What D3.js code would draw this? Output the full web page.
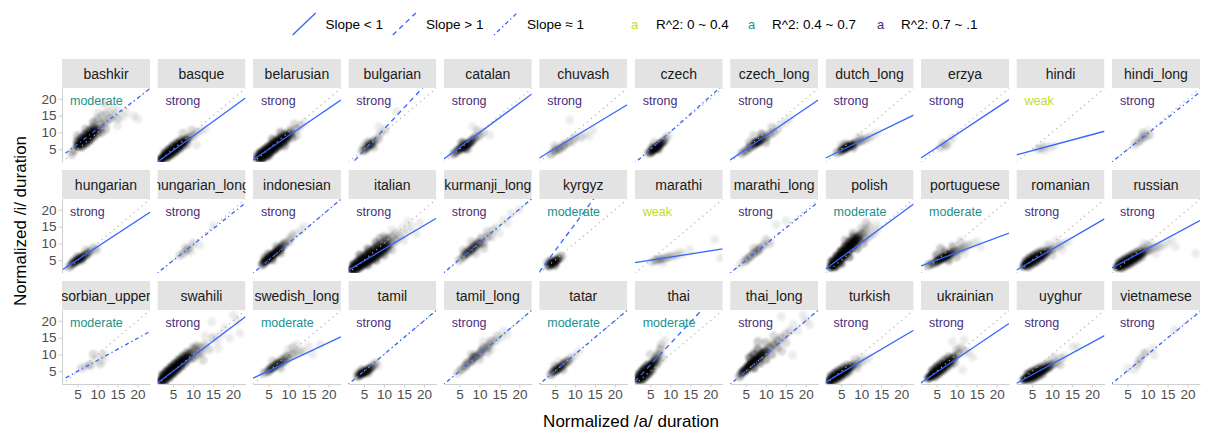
<!DOCTYPE html>
<html><head><meta charset="utf-8">
<script src="https://cdn.jsdelivr.net/npm/d3@7"></script>
<style>
html,body{margin:0;padding:0;background:#fff;}
svg{display:block;font-family:"Liberation Sans",Arial,sans-serif;}
</style></head>
<body><svg id="chart" width="1208" height="432"></svg>
<script>
// ---------- data ----------
const languages = ["bashkir","basque","belarusian","bulgarian","catalan","chuvash","czech","czech_long","dutch_long","erzya","hindi","hindi_long",
"hungarian","hungarian_long","indonesian","italian","kurmanji_long","kyrgyz","marathi","marathi_long","polish","portuguese","romanian","russian",
"sorbian_upper","swahili","swedish_long","tamil","tamil_long","tatar","thai","thai_long","turkish","ukrainian","uyghur","vietnamese"];
// fitted line: intercept & slope
const intercepts = [2.0,0.25,0.9,-1.75,1.1,1.6,-0.3,0.9,1.76,1.5,2.95,0.16,
1.24,0.16,0.0,1.3,0.2,-0.3,4.07,0.15,1.4,2.8,1.34,2.0,
1.7,0.5,2.3,0.0,0.0,0.0,0.5,0.0,1.0,0.7,0.7,0.3];
const slopes = [0.91,0.865,0.81,1.27,0.88,0.72,1.05,0.81,0.58,0.79,0.32,0.945,
0.78,0.945,1.0,0.70,1.0,1.6,0.185,0.96,0.88,0.445,0.69,0.64,
0.655,0.895,0.56,1.0,1.0,1.0,1.27,1.0,0.70,0.80,0.645,0.97];
// slope class: "lt" (<1), "gt" (>1), "eq" (≈1)
const slopeClass = ["eq","lt","lt","gt","lt","lt","eq","lt","lt","lt","lt","eq",
"lt","eq","eq","lt","eq","gt","lt","eq","lt","lt","lt","lt",
"eq","lt","lt","eq","eq","eq","gt","eq","lt","lt","lt","eq"];
// R^2 class
const fitStrength = ["moderate","strong","strong","strong","strong","strong","strong","strong","strong","strong","weak","strong",
"strong","strong","strong","strong","strong","moderate","weak","strong","moderate","moderate","strong","strong",
"moderate","strong","moderate","strong","strong","moderate","moderate","strong","strong","strong","strong","strong"];
// point clouds: [a duration, i duration, overlapping count]
const cloudPoints = [
// bashkir
[[5,6,12],[5.5,6.5,18],[6,7,25],[6.5,7.5,30],[7,8,30],[7.5,8.5,30],[8,9,28],[8.5,9.5,22],[9,10.2,16],[9.5,10.8,10],[5,7.3,8],[6,8.3,12],[7,9.4,12],[8,10.5,10],[9,11.6,6],[6,5.8,8],[7,6.7,12],[8,7.7,12],[9,8.8,8],[10,9.8,5],[4,4.5,4],[3.5,3.3,2],[10.5,11,5],[11,12.5,4],[12,13,3],[11,15,2],[12.3,18.2,1],[11.4,18.7,1],[13,14,3],[12,11,3],[14,15,2],[15,14,2],[16.4,14.7,1],[17,16,1],[14,17,1],[13,16,1],[9,13,4],[10,14,3],[5,9,3],[11,10,3],[15,12,1],[19,15,1],[20,14,1],[12,15.5,2],[10,16,1],[7,11,3],[15,16.5,1]],
// basque
[[2,2,20],[2.5,2.5,28],[3,3,30],[3.5,3.4,30],[4,3.9,30],[4.5,4.3,30],[5,4.8,30],[5.5,5.2,30],[6,5.7,28],[6.5,6.1,24],[7,6.6,20],[7.5,7,15],[8,7.5,10],[8.5,8,6],[3,3.9,10],[4,4.9,12],[5,5.9,12],[6,6.8,10],[7,7.7,6],[3.5,2.6,10],[4.5,3.4,12],[5.5,4.3,12],[6.5,5.2,10],[7.5,6.1,6],[9,8.5,4],[9.65,10.7,2],[7.5,9.8,2],[10.9,6.3,1],[10,9,3],[11,10,2],[12,10.5,1],[8.5,6.5,3],[13,11,1]],
// belarusian
[[2.5,2.4,22],[3,2.9,30],[3.5,3.3,30],[4,3.8,30],[4.5,4.2,30],[5,4.7,30],[5.5,5.1,30],[6,5.6,30],[6.5,6,30],[7,6.5,30],[7.5,6.9,28],[8,7.4,25],[8.5,7.8,20],[9,8.3,16],[9.5,8.7,12],[10,9.2,8],[3,3.9,20],[4,4.8,20],[5,5.7,20],[6,6.6,20],[7,7.5,18],[8,8.4,14],[9,9.3,10],[3.5,2.3,20],[4.5,3.2,20],[5.5,4.1,20],[6.5,5,18],[7.5,5.9,14],[8.5,6.8,10],[9.5,7.7,8],[10.5,10.5,5],[11,8.5,4],[12,11,3],[13,12,2],[11.5,12.5,2],[14,13,1],[8,10,4],[12,9,2],[6,8,5],[5,3,5],[9,6,4],[10.5,9.5,6],[2,3,5]],
// bulgarian
[[4.5,4.5,3],[5.2,4.8,5],[5.8,5.5,8],[6.5,6.3,10],[7,6.5,7],[7.5,7.5,5],[6,7,4],[8.5,8,3],[9,9.5,2],[10.2,10.7,2],[8.7,11.7,1],[13.1,16.2,1],[5,6,2],[7.5,5.5,2]],
// catalan
[[4,4,6],[4.8,4.8,12],[5.5,5.3,15],[6.2,5.8,18],[6.8,6.3,18],[7.5,6.8,12],[8,7.3,8],[8.5,8,5],[9,8.5,4],[10,9,3],[8.35,11.7,1],[9.5,10.5,2],[11,10,2],[12.6,9.2,1],[5.5,7,3],[7,5,3],[3.5,3.5,3],[6,6.8,6],[6.5,5.2,6]],
// chuvash
[[4,3.5,3],[5,4.5,5],[6,5,5],[7,5.8,4],[7.5,6.5,3],[8.5,7,3],[9.5,7.5,2],[10,8.5,2],[11.5,8.5,2],[12.5,9.5,1],[14.5,10.7,1],[13.5,8.8,1],[8.7,13.7,1],[5,6,2]],
// czech
[[5,4,8],[5.5,4.5,15],[6,5,20],[6.5,5.5,22],[7,6,18],[7.5,6.5,12],[8,7,8],[8.5,7.5,5],[5.5,5.5,6],[7,5,6],[9,8.5,2],[4.5,4,3],[9.5,9,1],[6,7,2]],
// czech_long
[[4,3.8,4],[5,4.5,6],[6,5.5,8],[7,6.3,10],[7.5,7,12],[8,7,12],[8.5,7.5,10],[9,8,8],[10,8.5,6],[9,9.5,5],[11,9.5,4],[12,10,3],[11.5,11.5,2],[13,11,2],[14,12.5,1],[15,13,1],[6,7,3],[10,7,3],[16,14,1],[7,9,2]],
// dutch_long
[[4,4,4],[5,4.5,8],[5.5,5,10],[6,5.2,12],[6.5,5.6,12],[7,6,12],[7.5,6.2,10],[8,6.5,8],[9,7,5],[10,7.5,4],[11,8,3],[12,8.5,2],[13,9,1],[6,6.5,4],[8,5.5,4],[9.5,8.5,2],[14,10,1],[5,6,2]],
// erzya
[[6,5.5,2],[7,6.5,2],[7.5,6,2],[8.5,7.5,1],[6.5,7,1],[9,8.5,1]],
// hindi
[[6.5,5,2],[7.5,5.5,2],[8.5,6,1],[9.5,5.5,1],[10.5,6,1],[8,4.5,1]],
// hindi_long
[[7.1,6.85,2],[8,7.5,3],[8.8,8.5,3],[8.8,9.8,2],[10.5,9.2,2],[9.5,8.8,2],[6.5,6,1],[10,10.5,1]],
// hungarian
[[3,3,4],[3.5,3.8,6],[4,4.2,8],[4.5,4.6,10],[5,5,12],[5.6,5.5,12],[6,5.8,10],[6.5,6.2,8],[7,6.5,6],[7.5,7,5],[8,7.5,4],[8.85,8.7,2],[9.5,8,2],[10,8.5,1],[5,6,4],[6,5,4],[4,5,2],[7,8,2]],
// hungarian_long
[[6.7,6.4,2],[7.5,7,2],[8.35,8.0,3],[9,8.5,2],[10,10,2],[11.7,9.4,1],[15,15.3,1],[9.5,7.5,1],[8,9,1]],
// indonesian
[[3.5,3.8,8],[4,4.5,14],[4.5,5,18],[5,5.5,22],[5.5,6,22],[6,6.5,20],[6.5,7,18],[7,7.5,15],[7.5,8,12],[8,8.5,10],[8.5,9.3,7],[9,10,5],[10,10.5,3],[10.5,11.5,2],[11,12.5,2],[12,13,1],[13,14,1],[6,5.2,6],[5,6.8,6],[8,7.2,4],[7,9,4],[4,5.8,4],[14,15,1]],
// italian
[[2,2.3,25],[2.5,2.7,30],[3,3.1,30],[3.5,3.5,30],[4,3.9,30],[4.5,4.3,30],[5,4.7,30],[5.5,5.1,30],[6,5.5,30],[6.5,5.9,30],[7,6.3,30],[7.5,6.7,28],[8,7.1,25],[8.5,7.5,22],[9,7.9,18],[9.5,8.3,15],[10,8.7,12],[10.5,9.1,9],[11,9.5,7],[2.5,3.7,18],[3.5,4.6,20],[4.5,5.5,20],[5.5,6.4,20],[6.5,7.3,18],[7.5,8.2,15],[8.5,9.1,12],[9.5,10,8],[10.5,10.9,5],[4,6.5,6],[6,8.3,6],[8,10.2,5],[10,12,3],[3,2.2,18],[4,3,20],[5,3.8,20],[6,4.6,20],[7,5.3,18],[8,6.1,15],[9,6.9,12],[10,7.7,8],[11,8.4,5],[6,3.6,5],[8,5,5],[10,6.5,4],[12,8,2],[12,10,4],[12,12,3],[13,11,3],[13,13,2],[14,12,2],[14.5,14.5,1],[15,13,1],[16,14,1],[17,15,1],[18,13,1],[11,11.5,4],[9,11.5,3],[12,14,1],[15,11,1],[19,16,1],[16,16.5,1]],
// kurmanji_long
[[5,5,3],[6,6,5],[6.5,7,6],[7,7,7],[7.5,8,7],[8,8,8],[8.5,9,7],[9,9,7],[9.5,10,6],[10,10,5],[10.5,11.5,4],[11,10,4],[12,12,3],[12,13.5,2],[13,12,2],[13.5,14,2],[14.5,15,1],[15,13,1],[16,17,1],[17,16,1],[20,20,1],[18,19,1],[6,8,2],[9,7,2],[8,10.5,2],[11,8.5,2]],
// kyrgyz
[[3.5,3.3,8],[4,3.8,14],[4.5,4.2,18],[5,4.6,16],[5.5,5,12],[6,5.5,6],[4,4.8,6],[5,3.5,6],[6.5,6.2,3],[3.2,4.3,3],[7,6,1]],
// marathi
[[5.5,4.5,2],[6.5,5,4],[7.5,5.3,4],[8.5,5.5,3],[9.5,6,3],[10.5,6.2,2],[11.5,6.6,2],[13,6.8,1],[14.9,8.1,1],[21.1,11.1,1],[22.5,5.7,1],[8,4.2,1],[12.5,7.5,1]],
// marathi_long
[[4.5,4.5,2],[5.15,5.1,4],[6,6,5],[7,7,5],[8,7.8,5],[8.5,8.6,4],[9.5,9.5,3],[10.1,11.1,2],[11,10,2],[12.6,15.6,1],[15.1,16.7,1],[3.5,3.5,1],[7,8.5,2]],
// polish
[[2.5,3,20],[3,3.6,28],[3.5,4.3,30],[4,5,30],[4.5,5.6,30],[5,6.3,30],[5.5,7,30],[6,7.6,30],[6.5,8.3,28],[7,9,26],[7.5,9.6,22],[8,10.3,18],[8.5,11,14],[9,11.6,10],[9.5,12.3,7],[3,4.8,15],[4,6.2,18],[5,7.6,18],[6,9,15],[7,10.4,12],[8,11.8,8],[3.5,3.2,15],[4.5,4.5,18],[5.5,5.9,18],[6.5,7.2,16],[7.5,8.5,13],[8.5,9.8,10],[9.5,11,6],[5,4,6],[7,6,6],[9,8.5,5],[10.5,10,4],[10.4,13,4],[11,14,3],[11.2,16.2,2],[12,15,2],[13,13,2],[13.8,15.6,1],[8,13,3],[12,12,2],[11,11.5,3],[10,14.5,2],[14,14,1],[2.5,4.5,5],[6,11,3]],
// portuguese
[[3,3.5,5],[4,4,8],[5,4.5,10],[5.5,5,12],[6,5.3,14],[6.5,5.6,14],[7,6,14],[7.5,6.2,12],[8,6.6,10],[8.5,7,8],[9,7.3,6],[10,7.8,5],[11,8.3,4],[12,8.8,3],[13,9.5,2],[14,10,1],[15,10.5,1],[5,6.5,5],[7,7.5,5],[9,9,4],[8,5,5],[10,6,3],[6,8.5,3],[11,10.5,2],[12,7,1],[16,9,1]],
// romanian
[[3,3.3,12],[3.5,3.8,20],[4,4.2,25],[4.5,4.6,28],[5,5,28],[5.5,5.3,28],[6,5.6,25],[6.5,6,22],[7,6.3,18],[7.5,6.6,14],[8,7,10],[8.5,7.3,8],[9,7.8,6],[10,8.3,4],[11,8.8,2],[3.5,4.8,8],[4.5,5.7,10],[5.5,6.4,10],[6.5,7.1,8],[7.5,7.8,5],[4,3.2,8],[5,3.9,10],[6,4.6,10],[7,5.3,7],[8,6,5],[12,9.5,2],[13,10,1],[14,10.5,1],[9,9.5,2],[11,11,1],[10,6.5,2],[12.5,8,1]],
// russian
[[2.5,3,15],[3,3.3,25],[3.5,3.6,28],[4,4,30],[4.5,4.3,30],[5,4.6,30],[5.5,5,28],[6,5.3,26],[6.5,5.6,22],[7,6,18],[7.5,6.3,15],[8,6.6,12],[8.5,7,9],[9,7.3,7],[10,7.8,5],[11,8.3,3],[12,8.8,2],[3,4.3,10],[4,5,12],[5,5.7,12],[6,6.4,10],[7,7.1,7],[8,7.8,5],[9,8.5,3],[3.5,2.7,8],[4.5,3.4,10],[5.5,4,10],[6.5,4.7,8],[7.5,5.3,6],[8.5,6,4],[13,9,2],[14,9.5,1],[15,10,1],[17,9,1],[10,9.5,2],[22,7,1],[9,10,1],[12,7,1],[11,10,1],[16,11,1]],
// sorbian_upper
[[6,5.9,2],[7,6.5,1],[8.1,6.8,3],[8.9,10,2],[11.3,10,2],[10.6,7.2,2],[11.4,8.3,1],[9.5,8.5,1]],
// swahili
[[2,2.2,25],[2.5,2.8,30],[3,3.3,30],[3.5,3.9,30],[4,4.4,30],[4.5,5,30],[5,5.5,30],[5.5,6,30],[6,6.6,28],[6.5,7.1,25],[7,7.7,20],[7.5,8.2,16],[8,8.8,12],[8.5,9.3,9],[9,9.9,6],[2.5,3.9,15],[3.5,5,18],[4.5,6.1,18],[5.5,7.2,15],[6.5,8.3,12],[7.5,9.4,8],[8.5,10.5,5],[3,2.3,15],[4,3.3,18],[5,4.4,18],[6,5.5,15],[7,6.5,12],[8,7.6,8],[9,8.7,5],[9.5,10.5,5],[10,9,5],[10.5,11.5,4],[11,10,4],[12,12,3],[12.5,8.3,2],[13,13,2],[14,11.5,2],[14.65,19.7,1],[15,15,2],[16.3,11.8,1],[17,16,1],[19.2,14.8,1],[20.1,21.7,1],[21.7,16.3,1],[18,18,1],[21,20,1],[13,15.5,1],[16,14,1],[11,12.5,3],[10,12,3],[12,10.5,3]],
// swedish_long
[[4,4.5,4],[5,5,6],[5.5,5.8,8],[6,6,8],[6.5,6.5,8],[7,7,8],[7.5,7.5,7],[8,7.5,6],[8.5,8.5,5],[9,8,5],[9.5,9.5,4],[10,9,3],[11,10,3],[12,10.5,2],[11,12,2],[13,11,2],[14,11,1],[15,12.5,1],[18,13,1],[6,8,2],[8,6,3],[10,11.5,1],[16,10,1],[12,13,1]],
// tamil
[[3.5,3.5,6],[4,4,12],[4.5,4.3,16],[5,4.6,18],[5.5,5,16],[6,5.4,12],[6.5,5.8,8],[7,6.2,5],[7.5,6.8,3],[4.5,5.3,5],[6,4.5,4],[8,7.5,2],[8.5,6.5,1],[3.5,4.5,2]],
// tamil_long
[[4.5,4.5,2],[5.5,5.5,4],[6.5,6.5,5],[7,7.5,5],[8,8,6],[8.5,9,6],[9,9.5,6],[10,10,5],[10.5,11,5],[11,12,4],[12,12,4],[12.5,13,3],[13,14,3],[14,14,2],[14.5,15.5,2],[15.5,15,1],[16,17,1],[17,16,1],[8,10,2],[10,8.5,2],[12,10.5,2],[11,14,1],[13,11.5,1]],
// tatar
[[4,4,4],[4.5,4.8,6],[5,5,8],[5.5,5.5,10],[6,6,10],[6.5,6.3,8],[7,7,7],[7.5,7.3,5],[8,8,4],[8.5,8,3],[9,9,2],[10,9.5,1],[5,6.5,3],[7,5.5,3],[11,11,1],[6,8,1]],
// thai
[[2,2.5,20],[2.5,3.2,28],[3,3.8,30],[3.5,4.5,30],[4,5.2,28],[4.5,5.8,25],[5,6.5,20],[5.5,7.2,15],[6,8,10],[6.5,9,6],[2,3.8,10],[2.8,4.8,14],[3.5,5.8,12],[4.3,6.8,8],[3,2.6,12],[3.8,3.5,14],[4.6,4.4,12],[5.4,5.4,8],[7,10,4],[7.5,11.5,3],[7.75,12.8,2],[8.6,14.3,1],[6.5,7,4],[8,9,2],[5,10,2],[7,8,3]],
// thai_long
[[3.5,3.5,5],[4,4.5,8],[4.5,5,12],[5,5.5,15],[5.5,6.2,18],[6,6.8,20],[6.5,7.3,20],[7,7.8,20],[7.5,8.3,18],[8,8.8,16],[8.5,9.3,14],[9,10,12],[9.5,10.5,10],[10,11,8],[11,12,6],[12,13,5],[13,14,4],[6,9,8],[7,10,8],[8,11.5,6],[8.05,13.8,3],[7,6,8],[8.5,7.5,6],[10,8.5,5],[11.5,10,4],[13,12,3],[14,15,3],[15,16,2],[16,17,2],[16.7,9.8,1],[14,11,2],[13.9,21.2,1],[17,19,1],[18,17,1],[19.3,21.7,1],[21,18.8,1],[12,15.5,2],[10,13.5,3],[15,13.5,2],[20,20,1]],
// turkish
[[2,2,15],[2.5,2.5,24],[3,3,28],[3.5,3.3,30],[4,3.7,30],[4.5,4,28],[5,4.4,25],[5.5,4.8,22],[6,5.2,18],[6.5,5.5,14],[7,6,10],[7.5,6.4,7],[8,6.8,5],[9,7.2,3],[10,7.8,2],[11,8.3,1],[2.5,3.5,10],[3.5,4.4,12],[4.5,5.2,10],[5.5,6,7],[6.5,6.8,4],[3,2.2,10],[4,2.8,12],[5,3.5,10],[6,4.2,7],[7,4.9,4],[8.5,8.5,2],[12,9,1],[9,6,2],[10,9,1]],
// ukrainian
[[3,3,12],[3.5,3.5,20],[4,4,26],[4.5,4.5,30],[5,5,30],[5.5,5.4,30],[6,5.8,28],[6.5,6.3,25],[7,6.8,22],[7.5,7.2,18],[8,7.6,14],[8.5,8.2,11],[9,8.8,8],[9.5,9.3,6],[10.5,10.3,4],[4,5.2,10],[5,6.2,12],[6,7.2,10],[7,8.2,7],[8,9.2,5],[4.5,3.5,10],[5.5,4.4,12],[6.5,5.3,10],[7.5,6.2,7],[8.5,7.1,5],[8.95,13.8,1],[11.9,14.3,1],[11.5,5.4,1],[14,9.1,1],[12,11,2],[11,12,2],[13,10.5,1],[10,11.5,2],[9.5,7.5,3]],
// uyghur
[[3,2.5,12],[3.5,2.8,20],[4,3.1,26],[4.5,3.4,28],[5,3.7,30],[5.5,4,30],[6,4.3,28],[6.5,4.6,26],[7,4.9,22],[7.5,5.2,18],[8,5.5,14],[8.5,5.8,10],[9,6.1,8],[9.5,6.5,6],[10,7,4],[4,4.2,10],[5,4.8,12],[6,5.4,10],[7,6,8],[8,6.6,5],[4.5,2.5,8],[5.5,3,10],[6.5,3.6,8],[7.5,4.2,6],[11,7.5,3],[12.3,8.8,2],[12,6.9,2],[13,9.5,1],[15.2,12.3,1],[16.4,12.3,1],[10.5,9,2],[9,7.5,3]],
// vietnamese
[[5.05,5.9,1],[6.7,5.4,1],[7.5,7,2],[8,8.3,2],[9.2,10.3,2],[9.8,10.7,1],[11.3,11.8,1],[11.6,9.8,1],[16.7,17.3,1],[8.5,9,1]]
];
const tickValues = [5,10,15,20];
const legendSlopeLabels = ["Slope < 1","Slope > 1","Slope \u2248 1"];
const legendSlopeKeys = ["lt","gt","eq"];
const legendR2Labels = ["R^2: 0 ~ 0.4","R^2: 0.4 ~ 0.7","R^2: 0.7 ~ .1"];
const legendR2Keys = ["weak","moderate","strong"];
const xTitle = "Normalized /a/ duration";
const yTitle = "Normalized /i/ duration";

// ---------- styles ----------
const strengthColor = {weak:"#BBDF27", moderate:"#21908C", strong:"#472D7B"};
const dashFor = {lt:null, gt:"5,4", eq:"1.3,3,4,3"};
const blue = "#3366FF";

// ---------- layout ----------
const nCols = 12;
const panelLeft0 = 62, colPitch = 95.45, panelW = 88;
const stripTop0 = 59, rowPitch = 111, stripH = 29, panelH = 74;
const x = d3.scaleLinear().domain([1.1, 23.1]).range([0, panelW]);
const y = d3.scaleLinear().domain([1.2, 23.2]).range([panelH, 0]);
const alpha = 0.075;

const svg = d3.select("#chart");
const defs = svg.append("defs");
defs.append("filter").attr("id", "soft").attr("x", "-20%").attr("y", "-20%").attr("width", "140%").attr("height", "140%")
  .append("feGaussianBlur").attr("stdDeviation", 0.9);

languages.forEach((lang, i) => {
  const col = i % nCols, row = Math.floor(i / nCols);
  const left = panelLeft0 + col * colPitch;
  const stripTop = stripTop0 + row * rowPitch;
  const top = stripTop + stripH;

  // strip
  defs.append("clipPath").attr("id", "sc" + i).append("rect")
    .attr("x", left).attr("y", stripTop).attr("width", panelW).attr("height", stripH);
  const sg = svg.append("g").attr("clip-path", `url(#sc${i})`);
  sg.append("rect").attr("x", left).attr("y", stripTop).attr("width", panelW).attr("height", stripH).attr("fill", "#e3e3e3");
  sg.append("text").attr("x", left + panelW / 2).attr("y", stripTop + stripH / 2 + 5)
    .attr("text-anchor", "middle").attr("font-size", 14).attr("fill", "#1a1a1a").text(lang);

  // panel
  defs.append("clipPath").attr("id", "pc" + i).append("rect")
    .attr("x", 0).attr("y", 0).attr("width", panelW).attr("height", panelH);
  const g = svg.append("g").attr("transform", `translate(${left},${top})`);
  const pg = g.append("g").attr("clip-path", `url(#pc${i})`);

  pg.append("g").attr("filter", "url(#soft)")
    .selectAll("circle").data(cloudPoints[i]).join("circle")
    .attr("cx", d => x(d[0])).attr("cy", d => y(d[1])).attr("r", 4.4)
    .attr("fill", "#000").attr("fill-opacity", d => 1 - Math.pow(1 - alpha, d[2]));

  // y = x reference
  pg.append("line").attr("x1", x(1.1)).attr("y1", y(1.1)).attr("x2", x(23.1)).attr("y2", y(23.1))
    .attr("stroke", "#b0b0b0").attr("stroke-width", 1.2).attr("stroke-dasharray", "1.2,4");

  // fitted line
  const a = intercepts[i], b = slopes[i];
  pg.append("line").attr("x1", x(1.1)).attr("y1", y(a + b * 1.1)).attr("x2", x(23.1)).attr("y2", y(a + b * 23.1))
    .attr("stroke", blue).attr("stroke-width", 1.3)
    .attr("stroke-dasharray", dashFor[slopeClass[i]]);

  // strength label
  pg.append("text").attr("x", x(3.1)).attr("y", y(19.4)).attr("dy", "0.35em")
    .attr("font-size", 12.5).attr("fill", strengthColor[fitStrength[i]]).text(fitStrength[i]);

  // axes
  const styleAxis = ax => {
    ax.select(".domain").attr("stroke", "#cfcfcf");
    ax.selectAll(".tick line").attr("stroke", "#cfcfcf");
    ax.selectAll("text").attr("font-size", 13.5).attr("fill", "#4d4d4d").attr("font-family", '"Liberation Sans",Arial,sans-serif');
  };
  if (col === 0) {
    styleAxis(g.append("g").call(d3.axisLeft(y).tickValues(tickValues).tickSize(3.5).tickSizeOuter(0).tickPadding(2)));
  }
  if (row === 2) {
    styleAxis(g.append("g").attr("transform", `translate(0,${panelH})`)
      .call(d3.axisBottom(x).tickValues(tickValues).tickSize(3.5).tickSizeOuter(0).tickPadding(2)));
  }
});

// axis titles
svg.append("text").attr("x", 631).attr("y", 427).attr("text-anchor", "middle")
  .attr("font-size", 17).attr("fill", "#000").text(xTitle);
svg.append("text").attr("transform", "translate(26,221) rotate(-90)").attr("text-anchor", "middle")
  .attr("font-size", 17).attr("fill", "#000").text(yTitle);

// legend
const legSlopeX = [292.6, 392.8, 494];
const legTextX = [325.5, 426, 527];
legendSlopeKeys.forEach((k, j) => {
  svg.append("line").attr("x1", legSlopeX[j]).attr("y1", 35).attr("x2", legSlopeX[j] + 23).attr("y2", 13)
    .attr("stroke", blue).attr("stroke-width", 1.3).attr("stroke-dasharray", dashFor[k]);
  svg.append("text").attr("x", legTextX[j]).attr("y", 29).attr("font-size", 13.5).attr("fill", "#000").text(legendSlopeLabels[j]);
});
const legAX = [631, 748, 877];
const legR2X = [656, 772, 901];
legendR2Keys.forEach((k, j) => {
  svg.append("text").attr("x", legAX[j]).attr("y", 29).attr("font-size", 13).attr("fill", strengthColor[k]).text("a");
  svg.append("text").attr("x", legR2X[j]).attr("y", 29).attr("font-size", 13.5).attr("fill", "#000").text(legendR2Labels[j]);
});
</script>
</body></html>
